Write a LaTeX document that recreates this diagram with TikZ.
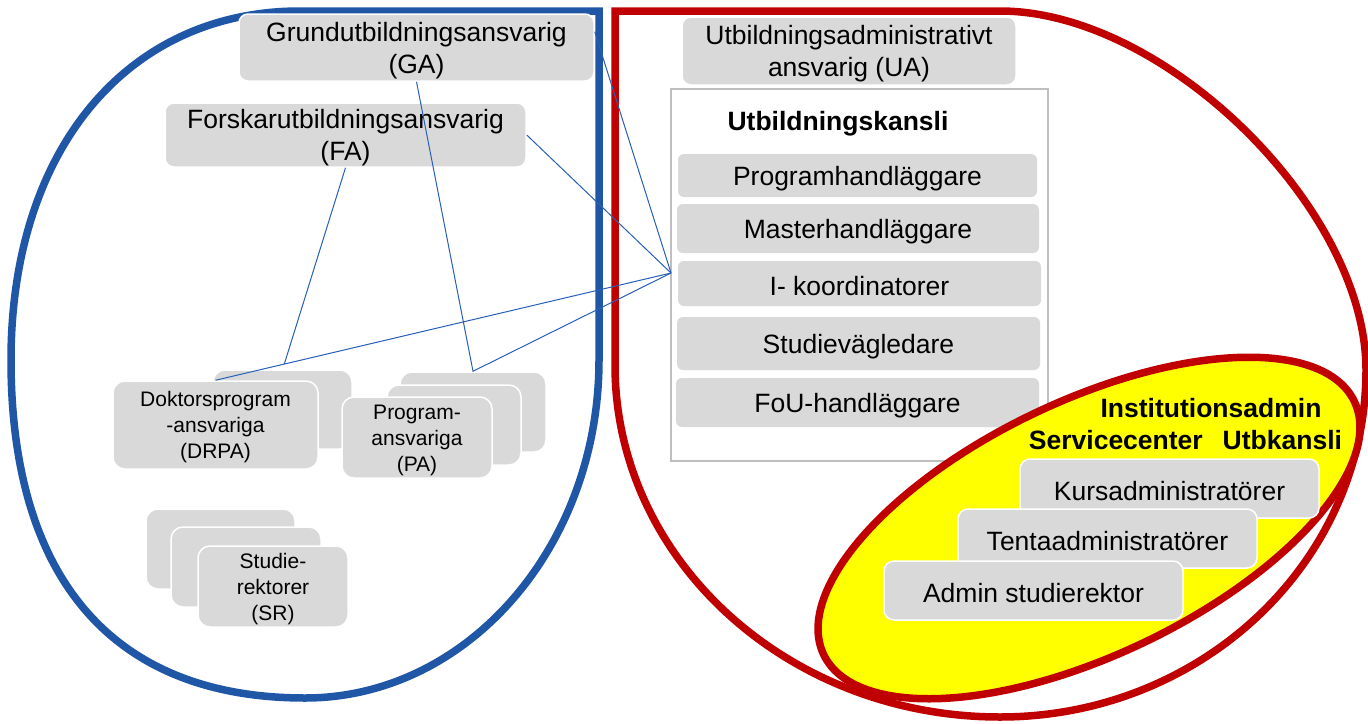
\documentclass[tikz,border=0pt]{standalone}
\usepackage{fontspec}
\setmainfont{Liberation Sans}
\usetikzlibrary{calc}
\definecolor{bluebd}{RGB}{31,86,166}
\definecolor{connblue}{RGB}{40,96,184}
\definecolor{redbd}{RGB}{192,0,0}
\definecolor{boxgray}{RGB}{217,217,217}
\definecolor{framegray}{RGB}{191,191,191}
\definecolor{hiyellow}{RGB}{255,255,0}
\newcommand\fsL{\fontsize{26.5pt}{32pt}\selectfont}
\newcommand\fsS{\fontsize{21pt}{26pt}\selectfont}
\newcommand\sv{\rule[0em]{0pt}{0.95em}}
\begin{document}
\begin{tikzpicture}[x=1pt,y=-1pt,
  bigline/.style={line width=7.5pt},
  gbox/.style={fill=boxgray, draw=white, line width=1.5pt, rounded corners=9pt, inner sep=0pt, align=center},
  stackbox/.style={gbox, rounded corners=12pt, font=\fsS, minimum width=150pt, minimum height=80pt},
  kbox/.style={fill=boxgray, draw=none, rounded corners=6pt, inner sep=0pt, align=center, font=\fsL},
  abox/.style={gbox, rounded corners=10pt, font=\fsL, minimum width=299pt, minimum height=59pt},
  connector/.style={draw=connblue, line width=1pt}
]
\useasboundingbox (0,0) rectangle (1368,723);
\fill[white] (0,0) rectangle (1368,723);

% big left shape
\draw[bluebd, bigline] (599,11) -- (300,11)
  .. controls (126.6,11) and (11,150.6) .. (11,360)
  .. controls (11,579.7) and (113.9,698) .. (305,698)
  .. controls (467.4,698) and (599,546.7) .. (599,360) -- cycle;

% big right shape
\draw[redbd, bigline] (615,11) -- (1000,11)
  .. controls (1164.7,11) and (1366,208.5) .. (1366,370)
  .. controls (1366,561.6) and (1202.1,717) .. (1000,717)
  .. controls (787.4,717) and (615,559.4) .. (615,365) -- cycle;

% Utbildningskansli frame
\node[draw=framegray, line width=2.5pt, minimum width=377pt, minimum height=372pt, inner sep=0pt] (kansli) at (859.5,275) {};
\node[font=\fsL\bfseries, inner sep=0pt] (ktitle) at (838,121) {\sv Utbildningskansli};
\node[kbox, minimum width=359pt, minimum height=43pt] (prog) at (857.5,175.5) {\sv Programhandläggare};
\node[kbox, minimum width=362pt, minimum height=49pt] (master) at (858,228.5) {\sv Masterhandläggare};
\node[kbox, minimum width=363pt, minimum height=45pt] (ikoord) at (859.5,283.5) {\sv I- koordinatorer};
\node[kbox, minimum width=363pt, minimum height=53pt] (sv) at (858.5,343.5) {\sv Studievägledare};
\node[kbox, minimum width=363pt, minimum height=49pt] (fou) at (857.5,402.5) {\sv FoU-handläggare};

% UA
\node[gbox, font=\fsL, minimum width=334pt, minimum height=68pt] (UA) at (849,51) {\sv Utbildningsadministrativt\\\sv ansvarig (UA)};

% yellow ellipse
\draw[redbd, bigline, fill=hiyellow, rotate around={25.5:(1089,528)}] (1089,528) ellipse [x radius=294pt, y radius=127pt];
\node[font=\fsL\bfseries, inner sep=0pt] (inst) at (1211,405) {\sv Institutionsadmin};
\node[font=\fsL\bfseries, inner sep=0pt] (serv) at (1185.5,437) {\sv Servicecenter\hspace{20pt}Utbkansli};
\node[abox] (kurs) at (1169.5,488.5) {\sv Kursadministratörer};
\node[abox] (tenta) at (1107.5,538.5) {\sv Tentaadministratörer};
\node[abox] (admin) at (1033.5,590.5) {\sv Admin studierektor};

% left boxes
\node[gbox, font=\fsL, minimum width=355pt, minimum height=67pt] (GA) at (416.5,47.5) {\sv Grundutbildningsansvarig\\\sv(GA)};
\node[gbox, font=\fsL, minimum width=361pt, minimum height=64pt] (FA) at (345.5,135) {\sv Forskarutbildningsansvarig\\\sv(FA)};

\node[stackbox, minimum width=139pt, minimum height=79pt] (drpaB) at (282.5,409.5) {};
\node[stackbox, minimum width=205pt, minimum height=88pt] (drpa) at (215.5,425) {\sv Doktorsprogram\\\sv -ansvariga\\\sv(DRPA)};

\node[stackbox, minimum width=146pt] (paB) at (473,412) {};
\node[stackbox, minimum width=134pt] (paM) at (454,425) {};
\node[stackbox, minimum height=81pt] (pa) at (417,437.5) {\sv Program-\\\sv ansvariga\\\sv(PA)};

\node[stackbox, minimum width=149pt] (srB) at (220.5,549) {};
\node[stackbox] (srM) at (246,567) {};
\node[stackbox, minimum height=81pt] (sr) at (273,586.5) {\sv Studie-\\\sv rektorer\\\sv(SR)};

% connectors
\coordinate (conv) at (671,273);
\draw[connector] ($(GA.north east)!0.27!(GA.south east)$) -- (conv);
\draw[connector] (FA.east) -- (conv);
\draw[connector] (drpa.north) -- (conv);
\draw[connector] (FA.south) -- ($(drpa.north)!0.151!(conv)$);
\draw[connector] (GA.south) -- (paB.north) -- (conv);
\end{tikzpicture}
\end{document}
